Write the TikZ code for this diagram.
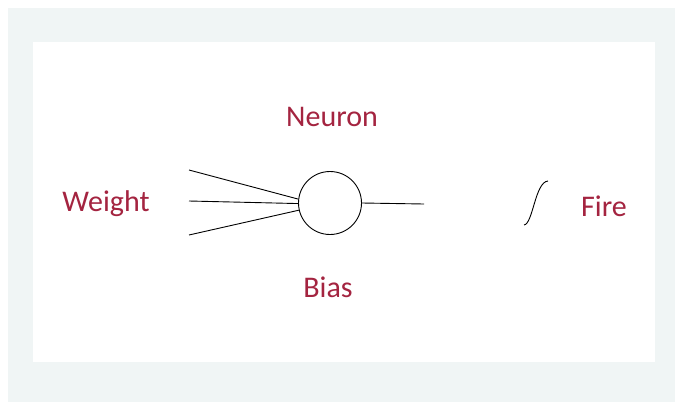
\documentclass[tikz,border=0pt]{standalone}
\usepackage{fontspec}
\setmainfont{Carlito}
\definecolor{lbl}{RGB}{164,36,64}
\definecolor{panel}{RGB}{240,245,245}
\begin{document}
\begin{tikzpicture}[x=1pt,y=-1pt,
  lab/.style={font=\fontsize{30}{32}\selectfont, text=lbl, anchor=base, inner sep=0pt},
  wire/.style={draw=black, line width=0.9pt}]
\useasboundingbox (0,0) rectangle (675,402);
\fill[white] (0,0) rectangle (675,402);
\fill[panel] (8,8) rectangle (675,402);
\fill[white] (33,42) rectangle (655,362);
\node[lab] (neuron) at (332,126) {Neuron};
\node[lab] (weight) at (106,211) {Weight};
\node[lab] (bias) at (328,297) {Bias};
\node[lab] (fire) at (604,216) {Fire};
\node[circle, draw, line width=0.9pt, minimum size=63pt, inner sep=0pt] (cell) at (330,203) {};
\coordinate (in1) at (189,170);
\coordinate (in2) at (189,201);
\coordinate (in3) at (189,235);
\coordinate (out) at (424,204);
\coordinate (s0) at (524,225);
\coordinate (s1) at (548,181);
\draw[wire] (in1) -- (cell.173);
\draw[wire] (in2) -- (cell.181);
\draw[wire] (in3) -- (cell.193);
\draw[wire] (cell.east) -- (out);
\draw[wire] (s0) .. controls (533,224) and (535,182) .. (s1);
\end{tikzpicture}
\end{document}
